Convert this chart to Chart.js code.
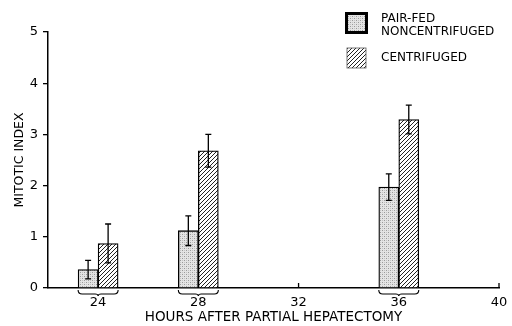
<!DOCTYPE html>
<html>
<head>
<meta charset="utf-8">
<script src="https://cdn.jsdelivr.net/npm/chart.js@4/dist/chart.umd.min.js"></script>
<style>
  body { margin: 0; background: #fff; }
  #wrap { width: 512px; height: 326px; }
</style>
</head>
<body>
<div id="wrap"><canvas id="chart-canvas" width="512" height="326"></canvas></div>
<script>
const hours = [24, 28, 36]
const pairFed = [0.36, 1.12, 1.97]
const pairFedErr = [0.18, 0.29, 0.26]
const centrifuged = [0.87, 2.68, 3.29]
const centrifugedErr = [0.38, 0.32, 0.28]
const xTicks = [24, 28, 32, 36, 40]
const yTicks = [0, 1, 2, 3, 4, 5]
const seriesNames = ['PAIR-FED\nNONCENTRIFUGED', 'CENTRIFUGED']

const FONT = 'DejaVu Sans'

function dotPattern() {
  const c = document.createElement('canvas')
  c.width = 4
  c.height = 4
  const g = c.getContext('2d')
  g.fillStyle = '#e4e4e4'
  g.fillRect(0, 0, 4, 4)
  g.fillStyle = '#9a9a9a'
  g.fillRect(0, 0, 1, 1)
  g.fillRect(2, 2, 1, 1)
  g.fillStyle = '#c4c4c4'
  g.fillRect(2, 0, 1, 1)
  g.fillRect(0, 2, 1, 1)
  return g.createPattern(c, 'repeat')
}

function hatchPattern() {
  const c = document.createElement('canvas')
  c.width = 4
  c.height = 4
  const g = c.getContext('2d')
  g.fillStyle = '#fff'
  g.fillRect(0, 0, 4, 4)
  g.strokeStyle = '#222'
  g.lineWidth = 1
  g.beginPath()
  g.moveTo(-1, 5); g.lineTo(5, -1)
  g.moveTo(-1, 1); g.lineTo(1, -1)
  g.moveTo(3, 5); g.lineTo(5, 3)
  g.stroke()
  return g.createPattern(c, 'repeat')
}

const dots = dotPattern()
const hatch = hatchPattern()

// error bars, braces under groups, inner x ticks and legend
const extras = {
  id: 'extras',
  beforeDatasetsDraw(chart) {
    const ctx = chart.ctx
    const x = chart.scales.x
    const y0 = chart.scales.y.getPixelForValue(0)
    ctx.save()
    ctx.strokeStyle = '#000'
    ctx.lineWidth = 1.3
    xTicks.forEach(t => {
      const px = x.getPixelForValue(t)
      ctx.beginPath()
      ctx.moveTo(px, y0)
      ctx.lineTo(px, y0 - 5)
      ctx.stroke()
    })
    ctx.restore()
  },
  afterDatasetsDraw(chart) {
    const ctx = chart.ctx
    const ys = chart.scales.y
    const errs = [pairFedErr, centrifugedErr]
    const vals = [pairFed, centrifuged]
    ctx.save()
    ctx.strokeStyle = '#000'
    ctx.lineWidth = 1.3
    chart.data.datasets.forEach((ds, d) => {
      const meta = chart.getDatasetMeta(d)
      meta.data.forEach((bar, i) => {
        const hi = ys.getPixelForValue(vals[d][i] + errs[d][i])
        const lo = ys.getPixelForValue(vals[d][i] - errs[d][i])
        ctx.beginPath()
        ctx.moveTo(bar.x, hi); ctx.lineTo(bar.x, lo)
        ctx.moveTo(bar.x - 3, hi); ctx.lineTo(bar.x + 3, hi)
        ctx.moveTo(bar.x - 3, lo); ctx.lineTo(bar.x + 3, lo)
        ctx.stroke()
      })
    })
    // braces
    const y0 = ys.getPixelForValue(0)
    const m0 = chart.getDatasetMeta(0)
    const m1 = chart.getDatasetMeta(1)
    ctx.lineWidth = 1.1
    hours.forEach((h, i) => {
      const l = m0.data[i].x - m0.data[i].width / 2
      const r = m1.data[i].x + m1.data[i].width / 2
      const c = (l + r) / 2
      const t = y0 + 2
      const b = y0 + 6
      ctx.beginPath()
      ctx.moveTo(l, t)
      ctx.quadraticCurveTo(l, b, l + 4, b)
      ctx.lineTo(c - 3, b)
      ctx.quadraticCurveTo(c, b, c, b + 2)
      ctx.quadraticCurveTo(c, b, c + 3, b)
      ctx.lineTo(r - 4, b)
      ctx.quadraticCurveTo(r, b, r, t)
      ctx.stroke()
    })
    ctx.restore()
  },
  afterDraw(chart) {
    const ctx = chart.ctx
    const a = chart.chartArea
    const bx = a.right - 154
    ctx.save()
    // first key box
    ctx.fillStyle = dots
    ctx.fillRect(bx, 12, 23, 22)
    ctx.strokeStyle = '#000'
    ctx.lineWidth = 3
    ctx.strokeRect(bx + 1.5, 13.5, 20, 19)
    // second key box
    ctx.fillStyle = hatch
    ctx.fillRect(bx + 2, 48, 19, 20)
    ctx.lineWidth = 0.8
    ctx.strokeStyle = '#555'
    ctx.strokeRect(bx + 2, 48, 19, 20)
    ctx.fillStyle = '#000'
    ctx.font = '12px "' + FONT + '"'
    ctx.textBaseline = 'alphabetic'
    const l0 = seriesNames[0].split('\n')
    ctx.fillText(l0[0], bx + 36, 22)
    ctx.fillText(l0[1], bx + 36, 35)
    ctx.fillText(seriesNames[1], bx + 36, 61)
    ctx.restore()
  }
}

const chartData = {
  datasets: [
    {
      label: seriesNames[0],
      data: hours.map((h, i) => ({ x: h, y: pairFed[i] })),
      backgroundColor: dots,
      borderColor: '#000',
      borderWidth: 1.3
    },
    {
      label: seriesNames[1],
      data: hours.map((h, i) => ({ x: h, y: centrifuged[i] })),
      backgroundColor: hatch,
      borderColor: '#000',
      borderWidth: 1.3
    }
  ]
}

const ctx = document.querySelector('#chart-canvas')
new Chart(ctx, {
  type: 'bar',
  data: chartData,
  plugins: [extras],
  options: {
    responsive: false,
    animation: false,
    barThickness: 20,
    layout: { padding: { top: 32, right: 13, left: 0, bottom: 0 } },
    plugins: {
      legend: { display: false },
      tooltip: { enabled: false }
    },
    scales: {
      x: {
        type: 'linear',
        offset: false,
        min: 22,
        max: 40,
        afterBuildTicks: s => { s.ticks = xTicks.map(v => ({ value: v })) },
        afterFit: s => { s.height = 38; s.paddingRight = 0; s.paddingLeft = 0 },
        grid: { display: false, drawTicks: false, offset: false },
        border: { display: true, color: '#000', width: 1.5 },
        ticks: { color: '#000', padding: 7, maxRotation: 0, font: { family: FONT, size: 13 } },
        title: {
          display: true,
          text: 'HOURS AFTER PARTIAL HEPATECTOMY',
          color: '#000',
          padding: { top: 2, bottom: 0 },
          font: { family: FONT, size: 13.5 }
        }
      },
      y: {
        min: 0,
        max: 5,
        afterBuildTicks: s => { s.ticks = yTicks.map(v => ({ value: v })) },
        afterFit: s => { s.width = 48; s.paddingTop = 0; s.paddingBottom = 0 },
        grid: { drawOnChartArea: false, drawTicks: true, tickLength: 5, color: '#000', lineWidth: 1.3 },
        border: { display: true, color: '#000', width: 1.5 },
        ticks: { color: '#000', padding: 5, font: { family: FONT, size: 13 } },
        title: {
          display: true,
          text: 'MITOTIC INDEX',
          color: '#000',
          padding: { top: 12, bottom: 0 },
          font: { family: FONT, size: 12.5 }
        }
      }
    }
  }
})
</script>
</body>
</html>
